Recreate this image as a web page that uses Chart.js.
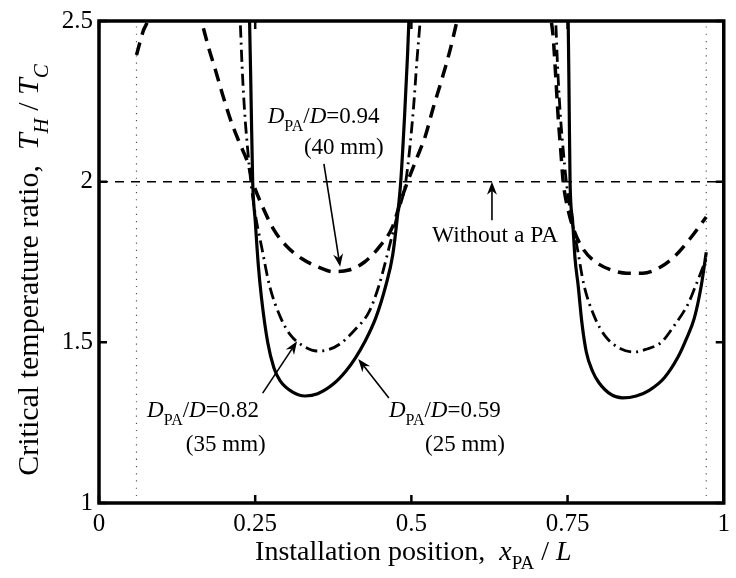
<!DOCTYPE html>
<html>
<head>
<meta charset="utf-8">
<script src="https://cdn.jsdelivr.net/npm/chart.js@4/dist/chart.umd.min.js"></script>
<style>
  html, body { margin: 0; padding: 0; background: #fff; }
  canvas { display: block; }
</style>
</head>
<body>
<canvas id="chart" width="736" height="578"></canvas>
<script>
// Installation position x_PA / L and critical temperature ratio T_H / T_C
// null entries break a curve where it leaves the plotted range.

// D_PA/D = 0.94 (40 mm)
const pos094 = [0.060, 0.065, 0.071, 0.078, 0.082, 0.120,
  0.158, 0.164, 0.175, 0.186, 0.198, 0.211, 0.225, 0.238, 0.246, 0.260, 0.280, 0.300, 0.325,
  0.350, 0.375, 0.400, 0.425, 0.450, 0.470, 0.483, 0.494, 0.508, 0.522, 0.535, 0.549, 0.562,
  0.573, 0.578, 0.650,
  0.721, 0.724, 0.727, 0.731, 0.735, 0.739, 0.743, 0.750, 0.760, 0.775, 0.795, 0.820, 0.845,
  0.870, 0.895, 0.920, 0.945, 0.972];
const ratio094 = [2.394, 2.43, 2.47, 2.50, 2.53, null,
  2.54, 2.50, 2.42, 2.35, 2.27, 2.19, 2.12, 2.06, 2.00, 1.93, 1.85, 1.80, 1.76,
  1.735, 1.72, 1.725, 1.75, 1.80, 1.86, 1.94, 2.00, 2.07, 2.14, 2.23, 2.32, 2.41,
  2.50, 2.54, null,
  2.56, 2.50, 2.45, 2.33, 2.20, 2.10, 2.00, 1.92, 1.85, 1.79, 1.75, 1.725, 1.715,
  1.715, 1.73, 1.765, 1.82, 1.89];

// D_PA/D = 0.82 (35 mm)
const pos082 = [0.224, 0.226, 0.229, 0.233, 0.238, 0.243, 0.250, 0.260, 0.273, 0.290, 0.306,
  0.330, 0.349, 0.365, 0.385, 0.410, 0.432, 0.448, 0.465, 0.478, 0.491, 0.503, 0.509, 0.514,
  0.516, 0.620,
  0.729, 0.731, 0.734, 0.738, 0.743, 0.748, 0.755, 0.765, 0.776, 0.793, 0.810, 0.835, 0.858,
  0.875, 0.900, 0.920, 0.943, 0.955, 0.972];
const ratio082 = [2.56, 2.50, 2.36, 2.22, 2.10, 2.00, 1.90, 1.80, 1.676, 1.58, 1.524,
  1.485, 1.473, 1.476, 1.494, 1.54, 1.594, 1.676, 1.80, 1.90, 2.00, 2.22, 2.38, 2.50,
  2.56, null,
  2.56, 2.50, 2.36, 2.22, 2.10, 2.00, 1.90, 1.80, 1.68, 1.58, 1.52, 1.48, 1.47,
  1.478, 1.50, 1.55, 1.62, 1.676, 1.76];

// D_PA/D = 0.59 (25 mm)
const pos059 = [0.239, 0.241, 0.2435, 0.246, 0.250, 0.255, 0.260, 0.270, 0.280, 0.290, 0.310,
  0.330, 0.350, 0.375, 0.395, 0.410, 0.425, 0.443, 0.459, 0.470, 0.477, 0.483, 0.489, 0.494,
  0.496, 0.498, 0.620,
  0.749, 0.751, 0.7525, 0.754, 0.758, 0.762, 0.767, 0.773, 0.780, 0.790, 0.800, 0.820, 0.838,
  0.860, 0.880, 0.905, 0.927, 0.940, 0.953, 0.964, 0.972];
const ratio059 = [2.56, 2.50, 2.25, 2.00, 1.88, 1.74, 1.64, 1.50, 1.42, 1.38, 1.345,
  1.333, 1.34, 1.37, 1.41, 1.45, 1.50, 1.576, 1.676, 1.77, 1.88, 2.00, 2.20, 2.40,
  2.50, 2.56, null,
  2.56, 2.50, 2.25, 2.00, 1.88, 1.76, 1.676, 1.56, 1.47, 1.41, 1.375, 1.337, 1.327,
  1.333, 1.35, 1.39, 1.455, 1.51, 1.576, 1.676, 1.78];

// Level without a phase adjuster
const noPaPos = [0, 1];
const noPaRatio = [2, 2];

// Admissible range of installation positions
const rangeLimits = [0.06, 0.972];

// Tick labels
const xTickLabels = ['0', '0.25', '0.5', '0.75', '1'];
const yTickLabels = ['1', '1.5', '2', '2.5'];

const SERIF = '"Liberation Serif", "Times New Roman", serif';

function toPoints(xs, ys) {
  return xs.map((x, i) => ({ x: x, y: ys[i] }));
}

function fontOf(run) {
  return (run.it ? 'italic ' : '') + run.size + 'px ' + SERIF;
}

// Draw a row of styled text runs (italics, subscripts) from a start point
function drawRuns(ctx, runs, x, y, align) {
  let total = 0;
  runs.forEach(r => { ctx.font = fontOf(r); r.w = ctx.measureText(r.t).width; total += r.w; });
  let cx = align === 'center' ? x - total / 2 : x;
  runs.forEach(r => {
    ctx.font = fontOf(r);
    ctx.fillText(r.t, cx, y + (r.dy || 0));
    cx += r.w;
  });
}

function drawArrow(ctx, x0, y0, x1, y1) {
  const ang = Math.atan2(y1 - y0, x1 - x0);
  const len = 13, half = 5, back = 9;
  ctx.beginPath();
  ctx.moveTo(x0, y0);
  ctx.lineTo(x1 - Math.cos(ang) * back, y1 - Math.sin(ang) * back);
  ctx.lineWidth = 1.6;
  ctx.stroke();
  ctx.beginPath();
  ctx.moveTo(x1, y1);
  ctx.lineTo(x1 - Math.cos(ang) * len + Math.sin(ang) * half, y1 - Math.sin(ang) * len - Math.cos(ang) * half);
  ctx.lineTo(x1 - Math.cos(ang) * back, y1 - Math.sin(ang) * back);
  ctx.lineTo(x1 - Math.cos(ang) * len - Math.sin(ang) * half, y1 - Math.sin(ang) * len + Math.cos(ang) * half);
  ctx.closePath();
  ctx.fill();
}

const dLabel = (value) => [
  { t: 'D', it: true, size: 23 },
  { t: 'PA', size: 16, dy: 8 },
  { t: '/', size: 23 },
  { t: 'D', it: true, size: 23 },
  { t: '=' + value, size: 23 }
];

// Callouts placed in data units
const callouts = [
  { runs: dLabel('0.94'), x: 0.270, y: 2.182 },
  { runs: [{ t: '(40 mm)', size: 23 }], x: 0.328, y: 2.085 },
  { runs: dLabel('0.82'), x: 0.077, y: 1.267 },
  { runs: [{ t: '(35 mm)', size: 23 }], x: 0.139, y: 1.161 },
  { runs: dLabel('0.59'), x: 0.464, y: 1.267 },
  { runs: [{ t: '(25 mm)', size: 23 }], x: 0.522, y: 1.161 },
  { runs: [{ t: 'Without a PA', size: 23.5 }], x: 0.533, y: 1.812 }
];
const arrows = [
  { from: [0.360, 2.055], to: [0.386, 1.735] },
  { from: [0.629, 1.880], to: [0.629, 2.0] },
  { from: [0.262, 1.342], to: [0.317, 1.503] },
  { from: [0.464, 1.327], to: [0.415, 1.448] }
];

const framePlugin = {
  id: 'frame',
  afterDatasetsDraw(chart) {
    const ctx = chart.ctx;
    const a = chart.chartArea;
    const xs = chart.scales.x, ys = chart.scales.y;
    ctx.save();
    ctx.fillStyle = '#000';
    ctx.strokeStyle = '#000';

    // callouts and arrows
    ctx.textBaseline = 'alphabetic';
    ctx.textAlign = 'left';
    callouts.forEach(c => {
      drawRuns(ctx, c.runs, xs.getPixelForValue(c.x), ys.getPixelForValue(c.y), 'left');
    });
    arrows.forEach(ar => {
      drawArrow(ctx,
        xs.getPixelForValue(ar.from[0]), ys.getPixelForValue(ar.from[1]),
        xs.getPixelForValue(ar.to[0]), ys.getPixelForValue(ar.to[1]));
    });

    // box
    ctx.lineWidth = 3.5;
    ctx.strokeRect(a.left, a.top, a.right - a.left, a.bottom - a.top);

    // inward ticks on all four sides
    const tl = 8;
    ctx.lineWidth = 2.5;
    ctx.beginPath();
    xs.ticks.forEach(t => {
      const px = xs.getPixelForValue(t.value);
      ctx.moveTo(px, a.bottom); ctx.lineTo(px, a.bottom - tl);
      ctx.moveTo(px, a.top); ctx.lineTo(px, a.top + tl);
    });
    ys.ticks.forEach(t => {
      const py = ys.getPixelForValue(t.value);
      ctx.moveTo(a.left, py); ctx.lineTo(a.left + tl, py);
      ctx.moveTo(a.right, py); ctx.lineTo(a.right - tl, py);
    });
    ctx.stroke();

    // axis titles
    const cx = (a.left + a.right) / 2 + 2;
    drawRuns(ctx, [
      { t: 'Installation position,  ', size: 28 },
      { t: 'x', it: true, size: 28 },
      { t: 'PA', size: 19, dy: 9 },
      { t: ' / ', size: 28 },
      { t: 'L', it: true, size: 28 }
    ], cx, 560, 'center');

    ctx.translate(38, 270);
    ctx.rotate(-Math.PI / 2);
    drawRuns(ctx, [
      { t: 'Critical temperature ratio,  ', size: 30 },
      { t: 'T', it: true, size: 30 },
      { t: 'H', it: true, size: 21, dy: 10 },
      { t: ' / ', size: 30 },
      { t: 'T', it: true, size: 30 },
      { t: 'C', it: true, size: 21, dy: 10 }
    ], 0, 0, 'center');
    ctx.restore();
  }
};

const curve = (xs, ys, dash, width, colour) => ({
  data: toPoints(xs, ys),
  borderColor: colour || '#000',
  borderWidth: width,
  borderDash: dash,
  pointRadius: 0,
  showLine: true,
  spanGaps: false,
  cubicInterpolationMode: 'monotone',
  clip: 0
});

new Chart(document.getElementById('chart'), {
  type: 'scatter',
  data: {
    datasets: [
      curve(noPaPos, noPaRatio, [9, 7], 1.5),
      curve([rangeLimits[0], rangeLimits[0]], [1, 2.5], [1.2, 6], 1.2, '#555'),
      curve([rangeLimits[1], rangeLimits[1]], [1, 2.5], [1.2, 6], 1.2, '#555'),
      curve(pos094, ratio094, [13, 8], 3.5),
      curve(pos082, ratio082, [12, 5, 2, 5], 2.8),
      curve(pos059, ratio059, [], 3.2)
    ]
  },
  options: {
    responsive: false,
    animation: false,
    devicePixelRatio: 1,
    layout: { padding: { left: 0, top: 9, right: 3, bottom: 0 } },
    plugins: { legend: { display: false }, tooltip: { enabled: false } },
    scales: {
      x: {
        type: 'linear', min: 0, max: 1,
        grid: { display: false, drawTicks: false },
        border: { display: false },
        afterFit: s => { s.height = 75; },
        ticks: {
          stepSize: 0.25, autoSkip: false, maxRotation: 0, padding: 6,
          color: '#000', font: { family: SERIF, size: 25 },
          callback: v => xTickLabels[Math.round(v * 4)]
        }
      },
      y: {
        type: 'linear', min: 1, max: 2.5,
        grid: { display: false, drawTicks: false },
        border: { display: false },
        afterFit: s => { s.width = 99; },
        ticks: {
          stepSize: 0.5, autoSkip: false, padding: 6,
          color: '#000', font: { family: SERIF, size: 25 },
          callback: v => yTickLabels[Math.round((v - 1) * 2)]
        }
      }
    }
  },
  plugins: [framePlugin]
});
</script>
</body>
</html>
